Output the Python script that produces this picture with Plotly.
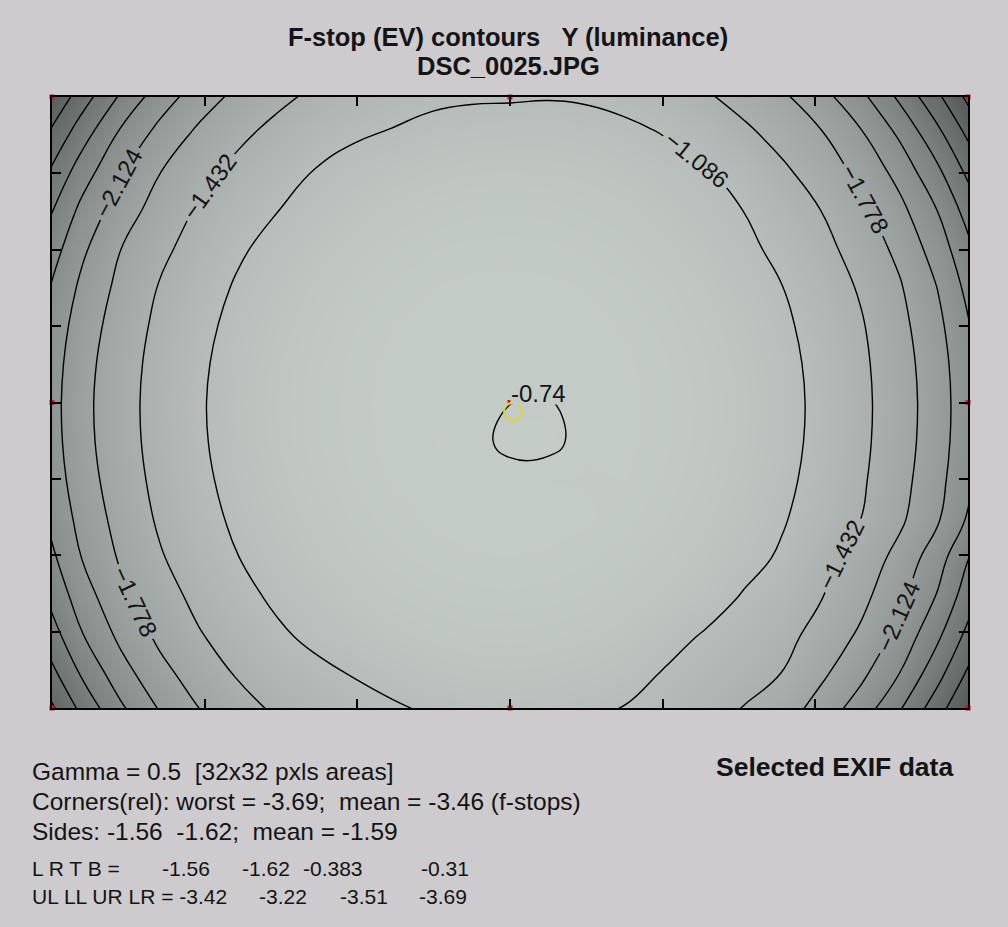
import plotly.graph_objects as go

# sample positions in image pixels (6000 x 4000 frame), one sample every 255 x 255 px
x_cols = list(range(-59, 6062, 255))
y_rows = list(range(-40, 4040, 255))

# relative luminance in f-stops (EV), one list per row (top -> bottom)
ev_r00 = [-4.012, -3.389, -2.825, -2.350, -1.996, -1.728, -1.543, -1.393, -1.290, -1.207, -1.17, -1.14, -1.135, -1.125, -1.14, -1.19, -1.27, -1.418, -1.581, -1.769, -2.059, -2.433, -2.940, -3.514, -4.140]
ev_r01 = [-3.622, -2.998, -2.446, -2.041, -1.733, -1.520, -1.352, -1.221, -1.13, -1.078, -1.0098, -0.9847, -0.9777, -0.967, -0.9936, -1.0394, -1.109, -1.202, -1.381, -1.563, -1.780, -2.113, -2.555, -3.122, -3.764]
ev_r02 = [-3.275, -2.662, -2.167, -1.798, -1.553, -1.355, -1.199, -1.0845, -1.0008, -0.9425, -0.9045, -0.8841, -0.8784, -0.8871, -0.8962, -0.9344, -0.9926, -1.0748, -1.1886, -1.389, -1.602, -1.873, -2.261, -2.783, -3.414]
ev_r03 = [-2.987, -2.393, -1.958, -1.643, -1.402, -1.2263, -1.10, -0.9841, -0.9116, -0.8625, -0.8321, -0.816, -0.811, -0.818, -0.8372, -0.8641, -0.915, -0.9891, -1.0932, -1.262, -1.443, -1.697, -2.038, -2.499, -3.122]
ev_r04 = [-2.752, -2.197, -1.786, -1.514, -1.2997, -1.1297, -1.0022, -0.9116, -0.8498, -0.8093, -0.7856, -0.7738, -0.7707, -0.7754, -0.7894, -0.8162, -0.8605, -0.9282, -1.0254, -1.1612, -1.3392, -1.570, -1.870, -2.301, -2.887]
ev_r05 = [-2.569, -2.055, -1.688, -1.4153, -1.2157, -1.0581, -0.9431, -0.8621, -0.8088, -0.7766, -0.7591, -0.7513, -0.7494, -0.7524, -0.7619, -0.7819, -0.8182, -0.8767, -0.9638, -1.0869, -1.2569, -1.467, -1.747, -2.145, -2.704]
ev_r06 = [-2.441, -1.960, -1.617, -1.3581, -1.1607, -1.0109, -0.9036, -0.8306, -0.7844, -0.7585, -0.7464, -0.7421, -0.7413, -0.7426, -0.7481, -0.7626, -0.7921, -0.8432, -0.9232, -1.0383, -1.1958, -1.401, -1.677, -2.048, -2.570]
ev_r07 = [-2.373, -1.901, -1.571, -1.3214, -1.1279, -0.9831, -0.8810, -0.8127, -0.7714, -0.7501, -0.752, -0.752, -0.752, -0.752, -0.753, -0.7532, -0.7782, -0.8245, -0.8993, -1.0095, -1.1634, -1.3659, -1.632, -1.989, -2.486]
ev_r08 = [-2.345, -1.876, -1.553, -1.3069, -1.1144, -0.9727, -0.8726, -0.8062, -0.7669, -0.7473, -0.756, -0.752, -0.7405, -0.7386, -0.755, -0.7501, -0.7733, -0.8177, -0.8905, -0.9984, -1.1504, -1.3514, -1.614, -1.966, -2.456]
ev_r09 = [-2.359, -1.888, -1.562, -1.3141, -1.1211, -0.9777, -0.8767, -0.8093, -0.7692, -0.7487, -0.759, -0.752, -0.7307, -0.7288, -0.756, -0.7516, -0.7757, -0.8209, -0.8950, -1.0039, -1.1571, -1.3586, -1.623, -1.978, -2.470]
ev_r10 = [-2.411, -1.933, -1.597, -1.3419, -1.1463, -0.9984, -0.8936, -0.8223, -0.7784, -0.7545, -0.755, -0.757, -0.753, -0.759, -0.760, -0.7581, -0.7857, -0.8349, -0.9124, -1.0250, -1.1814, -1.3853, -1.657, -2.021, -2.532]
ev_r11 = [-2.506, -2.011, -1.655, -1.3887, -1.1886, -1.0356, -0.9243, -0.8471, -0.797, -0.7675, -0.7525, -0.7462, -0.7448, -0.747, -0.7547, -0.7723, -0.8055, -0.8605, -0.9448, -1.0638, -1.2285, -1.4315, -1.714, -2.098, -2.641]
ev_r12 = [-2.660, -2.119, -1.736, -1.462, -1.258, -1.0923, -0.9720, -0.8862, -0.8286, -0.7919, -0.7712, -0.7612, -0.7587, -0.7627, -0.7745, -0.7981, -0.8388, -0.9002, -0.9939, -1.1247, -1.3325, -1.570, -1.884, -2.334, -2.951]
ev_r13 = [-2.860, -2.289, -1.866, -1.574, -1.3475, -1.1729, -1.0398, -0.9439, -0.8769, -0.8326, -0.8053, -0.7915, -0.7877, -0.7934, -0.8097, -0.8401, -0.8891, -0.9613, -1.109, -1.2241, -1.422, -1.683, -2.032, -2.513, -3.158]
ev_r14 = [-3.107, -2.496, -2.043, -1.706, -1.460, -1.2813, -1.1342, -1.0244, -0.9474, -0.8940, -0.8603, -0.8421, -0.8374, -0.8446, -0.8660, -0.9033, -0.99, -1.111, -1.20, -1.3264, -1.562, -1.832, -2.229, -2.768, -3.420]
ev_r15 = [-3.406, -2.787, -2.274, -1.892, -1.622, -1.4087, -1.258, -1.16, -1.075, -1.01, -0.9419, -0.9195, -0.9132, -0.9227, -0.9489, -0.9933, -1.114, -1.20, -1.30, -1.445, -1.725, -2.049, -2.482, -3.071, -3.734]
ev_r16 = [-3.756, -3.127, -2.572, -2.134, -1.809, -1.591, -1.407, -1.2808, -1.20, -1.13, -1.075, -1.045, -1.0209, -1.0323, -1.063, -1.12, -1.20, -1.30, -1.47, -1.633, -1.959, -2.330, -2.832, -3.427, -4.081]
ev = [ev_r00, ev_r01, ev_r02, ev_r03, ev_r04, ev_r05, ev_r06, ev_r07, ev_r08,
      ev_r09, ev_r10, ev_r11, ev_r12, ev_r13, ev_r14, ev_r15, ev_r16]

# contour levels
level_start = -4.2
level_end = -0.74
level_step = 0.346

# reference marks: image centre, edge centres and corners; brightest spot
ref_x = [3000, 3000, 3000, 0, 6000, 0, 6000, 0, 6000]
ref_y = [2000, 0, 4000, 2000, 2000, 0, 0, 4000, 4000]
peak_x = [3020]
peak_y = [2060]
# label of the small central -0.74 loop
loop_label = "-0.74"
loop_label_x = [3000]
loop_label_y = [2015]

FONT = "Liberation Sans, Arial, sans-serif"
BG = "#cdcbcd"
INK = "#141414"

grays = [
    [0.0, "rgb(74,78,78)"],
    [0.2, "rgb(100,105,104)"],
    [0.4, "rgb(124,130,128)"],
    [0.6, "rgb(147,154,151)"],
    [0.8, "rgb(170,177,174)"],
    [0.9, "rgb(183,190,187)"],
    [1.0, "rgb(197,205,200)"],
]

fig = go.Figure()

fig.add_trace(go.Heatmap(
    x=x_cols, y=y_rows, z=ev,
    zsmooth="best", colorscale=grays, zmin=-4.2, zmax=-0.7,
    showscale=False, hoverinfo="skip"
))

fig.add_trace(go.Contour(
    x=x_cols, y=y_rows, z=ev,
    autocontour=False,
    contours=dict(start=level_start, end=level_end, size=level_step,
                  coloring="none", showlabels=True,
                  labelfont=dict(family=FONT, size=24, color=INK),
                  labelformat=".4~g"),
    line=dict(color="black", width=1.4, smoothing=1.3),
    showscale=False, hoverinfo="skip"
))

fig.add_trace(go.Scatter(
    x=ref_x, y=ref_y, mode="markers", cliponaxis=False,
    marker=dict(symbol="square", size=5, color="#e01010"),
    hoverinfo="skip", showlegend=False
))

fig.add_trace(go.Scatter(
    x=peak_x, y=peak_y, mode="markers",
    marker=dict(symbol="circle-open", size=18, color="#d8d830", line=dict(width=2)),
    hoverinfo="skip", showlegend=False
))

axis_style = dict(showgrid=False, zeroline=False, showticklabels=False,
                  ticks="inside", ticklen=9, tickwidth=1.5, tickcolor="black",
                  showline=True, linecolor="black", linewidth=2, mirror="ticks")
fig.update_xaxes(range=[0, 6000], dtick=1000, tick0=0, **axis_style)
fig.update_yaxes(range=[4000, 0], dtick=500, tick0=0, **axis_style)


def px_x(px):
    return (px - 52) / 916


def px_y(py):
    return (708 - py) / 611


notes = [dict(
    text=loop_label, x=loop_label_x[0], y=loop_label_y[0], xref="x", yref="y",
    xanchor="left", yanchor="bottom", showarrow=False, borderpad=0, height=22,
    bgcolor="rgb(195,203,198)", font=dict(family=FONT, size=24, color=INK)
)]


def note(txt, x, y, size=24.5, bold=False, anchor="left"):
    notes.append(dict(
        text="<b>" + txt + "</b>" if bold else txt,
        x=px_x(x), y=px_y(y), xref="paper", yref="paper",
        xanchor=anchor, yanchor="middle", showarrow=False,
        font=dict(family=FONT, size=size, color=INK)
    ))


note("F-stop (EV) contours\u00a0\u00a0\u00a0Y (luminance)", 508, 37, size=25.5, bold=True, anchor="center")
note("DSC_0025.JPG", 508, 66, size=25.5, bold=True, anchor="center")

note("Gamma = 0.5\u00a0\u00a0[32x32 pxls areas]", 30, 771)
note("Corners(rel): worst = -3.69;\u00a0\u00a0mean = -3.46 (f-stops)", 30, 801)
note("Sides: -1.56\u00a0\u00a0-1.62;\u00a0\u00a0mean = -1.59", 30, 831)
note("Selected EXIF data", 714, 767, size=26.5, bold=True)

note("L R T B =", 30, 869, size=21)
for txt, xp in [("-1.56", 160), ("-1.62", 240), ("-0.383", 301), ("-0.31", 419)]:
    note(txt, xp, 869, size=21)
note("UL LL UR LR = -3.42", 30, 897, size=21)
for txt, xp in [("-3.22", 257), ("-3.51", 338), ("-3.69", 417)]:
    note(txt, xp, 897, size=21)

fig.update_layout(
    width=1008, height=927,
    margin=dict(l=52, r=40, t=97, b=219),
    paper_bgcolor=BG, plot_bgcolor=BG,
    showlegend=False,
    annotations=notes,
)

fig.write_html("out.html", config={"displayModeBar": False},
               post_script="document.body.style.margin='0';document.body.style.overflow='hidden';")
